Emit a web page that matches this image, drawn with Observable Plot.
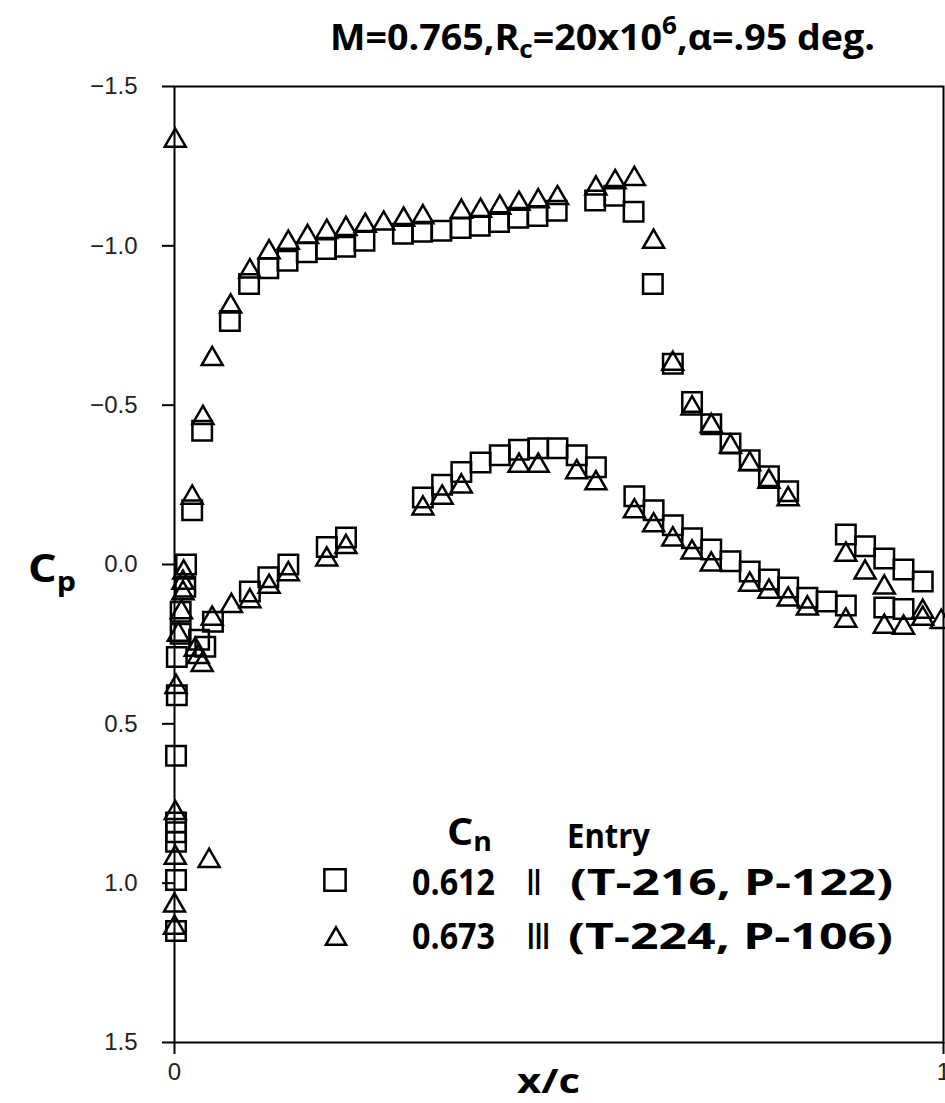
<!DOCTYPE html>
<html>
<head>
<meta charset="utf-8">
<script src="https://cdn.jsdelivr.net/npm/d3@7"></script>
<script src="https://cdn.jsdelivr.net/npm/@observablehq/plot@0.6"></script>
<style>
  html, body { margin: 0; padding: 0; background: white; overflow: hidden; }
  #chart { width: 945px; height: 1103px; }
</style>
</head>
<body>
<div id="chart"></div>
<script>
// Entry II (squares), Cn = 0.612
const sqX = [0.002, 0.002, 0.002, 0.002, 0.002, 0.002, 0.003, 0.003, 0.008, 0.008, 0.014, 0.015, 0.023, 0.036,
  0.072, 0.097, 0.122, 0.147, 0.172, 0.197, 0.222, 0.247, 0.297, 0.322, 0.347, 0.372, 0.397, 0.422, 0.447, 0.472, 0.497,
  0.547, 0.572, 0.597, 0.622, 0.648, 0.673, 0.698, 0.723, 0.748, 0.773, 0.798, 0.873, 0.898, 0.923, 0.948, 0.973,
  0.032, 0.040, 0.050, 0.098, 0.122, 0.148, 0.198, 0.223, 0.323, 0.348, 0.373, 0.398, 0.423, 0.448, 0.473, 0.498,
  0.523, 0.548, 0.598, 0.623, 0.648, 0.673, 0.698, 0.723, 0.748, 0.773, 0.798, 0.823, 0.848, 0.873, 0.923, 0.948];
const sqCp = [1.15, 0.99, 0.87, 0.84, 0.81, 0.60, 0.41, 0.29, 0.217, 0.148, 0.07, 0.0, -0.17, -0.42,
  -0.764, -0.88, -0.93, -0.953, -0.98, -0.99, -0.997, -1.016, -1.038, -1.044, -1.047, -1.056, -1.063, -1.075, -1.088, -1.094, -1.11,
  -1.142, -1.157, -1.107, -0.88, -0.63, -0.51, -0.44, -0.38, -0.327, -0.277, -0.23, -0.094, -0.057, -0.019, 0.016, 0.053,
  0.236, 0.258, 0.18, 0.085, 0.04, 0.0, -0.055, -0.085, -0.21, -0.25, -0.29, -0.32, -0.343, -0.36, -0.365, -0.365,
  -0.343, -0.305, -0.214, -0.17, -0.123, -0.082, -0.047, -0.01, 0.022, 0.047, 0.072, 0.104, 0.116, 0.129, 0.135, 0.14];

// Entry III (triangles), Cn = 0.673
const triX = [0.0, 0.0, 0.001, 0.001, 0.045, 0.002, 0.005, 0.009, 0.011, 0.011, 0.012, 0.023, 0.037, 0.049, 0.001,
  0.073, 0.098, 0.123, 0.148, 0.173, 0.198, 0.223, 0.248, 0.272, 0.298, 0.323, 0.373, 0.398, 0.423, 0.448, 0.473, 0.498,
  0.548, 0.573, 0.598, 0.623, 0.648, 0.673, 0.698, 0.723, 0.748, 0.773, 0.798, 0.873, 0.898, 0.923, 0.973,
  0.027, 0.031, 0.036, 0.049, 0.074, 0.098, 0.123, 0.148, 0.198, 0.223, 0.323, 0.348, 0.373, 0.448, 0.473, 0.523, 0.548,
  0.598, 0.623, 0.648, 0.673, 0.698, 0.748, 0.773, 0.798, 0.823, 0.873, 0.923, 0.948, 0.973, 0.997];
const triCp = [1.14, 1.07, 0.92, 0.78, 0.93, 0.384, 0.22, 0.15, 0.09, 0.057, 0.025, -0.21, -0.46, -0.645, -1.33,
  -0.81, -0.92, -0.98, -1.01, -1.028, -1.044, -1.053, -1.063, -1.07, -1.082, -1.09, -1.107, -1.11, -1.12, -1.132, -1.14, -1.15,
  -1.18, -1.2, -1.21, -1.013, -0.63, -0.49, -0.435, -0.37, -0.315, -0.26, -0.205, -0.031, 0.025, 0.072, 0.148,
  0.267, 0.29, 0.315, 0.17, 0.13, 0.115, 0.07, 0.03, -0.016, -0.055, -0.176, -0.21, -0.245, -0.31, -0.31, -0.29, -0.255,
  -0.167, -0.123, -0.079, -0.038, 0.0, 0.063, 0.085, 0.11, 0.138, 0.176, 0.195, 0.198, 0.17, 0.18];

const yTicks = [-1.5, -1.0, -0.5, 0.0, 0.5, 1.0, 1.5];
const xTicks = [0, 1];
const xTickLabels = ["0", "1"];

const squares = sqX.map((x, i) => ({x, cp: sqCp[i]}));
const triangles = triX.map((x, i) => ({x, cp: triCp[i]}));

const SQ_R = 11, TRI_R = 7.8;

const chart = Plot.plot({
  width: 945,
  height: 1103,
  marginLeft: 174,
  marginRight: 2,
  marginTop: 86,
  marginBottom: 61,
  style: {fontFamily: "Liberation Sans, sans-serif", fontSize: "24px", background: "white", color: "black"},
  x: {domain: [0, 1]},
  y: {domain: [-1.5, 1.5], reverse: true},
  marks: [
    Plot.frame({stroke: "black", strokeWidth: 2}),
    Plot.axisY({ticks: yTicks, tickSize: 12, tickPadding: 25, strokeWidth: 2, fill: "#222", label: null,
      tickFormat: d => (d < 0 ? "\u2212" : "") + Math.abs(d).toFixed(1)}),
    Plot.axisX({ticks: xTicks, tickSize: 12, tickPadding: 8, strokeWidth: 2, fill: "#222", label: null,
      tickFormat: (d, i) => xTickLabels[i]}),
    Plot.dot(squares, {x: "x", y: "cp", symbol: "square", r: SQ_R, stroke: "black", strokeWidth: 2.5, fill: "none"}),
    Plot.dot(triangles, {x: "x", y: "cp", symbol: "triangle", r: TRI_R, stroke: "black", strokeWidth: 2.5, fill: "none"})
  ]
});
document.getElementById("chart").appendChild(chart);

const svg = d3.select(chart);
// axis tick labels (only Plot's own texts exist at this point)
svg.selectAll("text").style("font-size", "24px").style("font-family", "Liberation Sans, sans-serif");

const BOLD = "Open Sans, DejaVu Sans, sans-serif";

function rich(x, y, size, parts, width) {
  const t = svg.append("text")
    .attr("x", x).attr("y", y)
    .attr("text-anchor", "start")
    .attr("font-family", BOLD).attr("font-weight", 700)
    .attr("font-size", size).attr("fill", "black");
  for (const p of parts) {
    const s = t.append("tspan").text(p.t);
    if (p.dy) s.attr("dy", p.dy);
    if (p.size) s.attr("font-size", p.size);
  }
  if (width) t.attr("textLength", width).attr("lengthAdjust", "spacingAndGlyphs");
  return t;
}

// Title
rich(330, 50, 36, [
  {t: "M=0.765,R"},
  {t: "c", size: 25, dy: 8},
  {t: "=20x10", dy: -8},
  {t: "6", size: 25, dy: -16},
  {t: ",\u03b1=.95 deg.", dy: 16}
], 545);

// y label
rich(28, 582, 40, [{t: "C"}, {t: "p", size: 27, dy: 9}], 48);
// x label
rich(517, 1093, 34, [{t: "x/c"}], 63);

// Legend header
rich(447, 845, 38, [{t: "C"}, {t: "n", size: 26, dy: 6}], 45);
rich(567, 848, 34, [{t: "Entry"}], 83);

// Legend rows
rich(412, 895, 36, [{t: "0.612"}], 83);
rich(527, 895, 36, [{t: "II"}], 14);
rich(570, 895, 36, [{t: "(T-216, P-122)"}], 323);
rich(412, 949, 36, [{t: "0.673"}], 83);
rich(527, 949, 36, [{t: "III"}], 23);
rich(568, 949, 36, [{t: "(T-224, P-106)"}], 325);

// Legend symbols
svg.append("path")
  .attr("transform", "translate(335,880)")
  .attr("d", d3.symbol(d3.symbolSquare, Math.PI * 12 * 12)())
  .attr("fill", "none").attr("stroke", "black").attr("stroke-width", 2.5);
svg.append("path")
  .attr("transform", "translate(336,939)")
  .attr("d", d3.symbol(d3.symbolTriangle, Math.PI * 7.5 * 7.5)())
  .attr("fill", "none").attr("stroke", "black").attr("stroke-width", 2.5);
</script>
</body>
</html>
